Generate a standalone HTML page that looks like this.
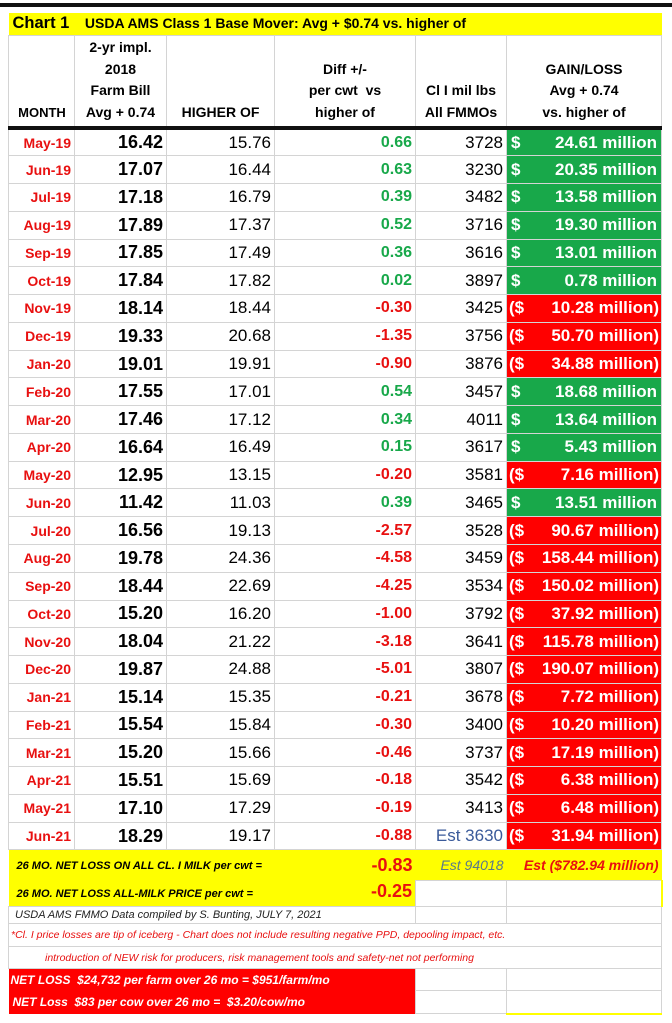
<!DOCTYPE html>
<html><head><meta charset="utf-8"><style>
body{margin:0;background:#fff;width:672px;height:1023px;overflow:hidden;font-family:"Liberation Sans",sans-serif;position:relative}
table{position:absolute;left:8px;top:13px;border-collapse:collapse;table-layout:fixed;width:653px}
td{border:1px solid #d4d4d4;padding:0 3px;white-space:nowrap;overflow:hidden;height:27.77px;box-sizing:border-box;font-size:17px;text-align:right}
.m{color:#e81010;font-weight:bold;font-size:14px}
.a{font-weight:bold;font-size:18px}
.d{font-weight:bold;font-size:16px}
.gp{color:#18a84a}.gn{color:#e81010}
.g{background:#18a84a;color:#fff;font-weight:bold;font-size:17px;padding:0 4px}
.r{background:#ff0000;color:#fff;font-weight:bold;font-size:17px;padding:0 2px}
.g span,.r span{float:left}
.hd td{font-weight:bold;font-size:14px;text-align:center;vertical-align:bottom;line-height:21.5px;padding-bottom:3px;height:93px;border-bottom:4px solid #111}
</style></head><body>
<div style="position:absolute;left:0;top:3px;width:672px;height:4px;background:#111"></div>
<table>
<colgroup><col style="width:66px"><col style="width:92px"><col style="width:108px"><col style="width:141px"><col style="width:91px"><col style="width:155px"></colgroup>
<tr><td colspan="6" style="background:#ffff00;height:22px;text-align:left;font-weight:bold;font-size:14px;border:none;padding-left:4px"><span style="font-size:16.5px">Chart 1</span>&nbsp;&nbsp;&nbsp;&nbsp;USDA AMS Class 1 Base Mover: Avg + $0.74 vs. higher of</td></tr>
<tr class="hd"><td style="padding:0 0 3px 1px;font-size:13px">MONTH</td><td>2-yr impl.<br>2018<br>Farm Bill<br>Avg + 0.74</td><td>HIGHER OF</td><td>Diff +/-<br>per cwt&nbsp; vs<br>higher of</td><td>Cl I mil lbs<br>All FMMOs</td><td>GAIN/LOSS<br>Avg + 0.74<br>vs. higher of</td></tr>
<tr><td class="m">May-19</td><td class="a">16.42</td><td>15.76</td><td class="d gp">0.66</td><td>3728</td><td class="g"><span>$</span>24.61 million</td></tr>
<tr><td class="m">Jun-19</td><td class="a">17.07</td><td>16.44</td><td class="d gp">0.63</td><td>3230</td><td class="g"><span>$</span>20.35 million</td></tr>
<tr><td class="m">Jul-19</td><td class="a">17.18</td><td>16.79</td><td class="d gp">0.39</td><td>3482</td><td class="g"><span>$</span>13.58 million</td></tr>
<tr><td class="m">Aug-19</td><td class="a">17.89</td><td>17.37</td><td class="d gp">0.52</td><td>3716</td><td class="g"><span>$</span>19.30 million</td></tr>
<tr><td class="m">Sep-19</td><td class="a">17.85</td><td>17.49</td><td class="d gp">0.36</td><td>3616</td><td class="g"><span>$</span>13.01 million</td></tr>
<tr><td class="m">Oct-19</td><td class="a">17.84</td><td>17.82</td><td class="d gp">0.02</td><td>3897</td><td class="g"><span>$</span>0.78 million</td></tr>
<tr><td class="m">Nov-19</td><td class="a">18.14</td><td>18.44</td><td class="d gn">-0.30</td><td>3425</td><td class="r"><span>($</span>10.28 million)</td></tr>
<tr><td class="m">Dec-19</td><td class="a">19.33</td><td>20.68</td><td class="d gn">-1.35</td><td>3756</td><td class="r"><span>($</span>50.70 million)</td></tr>
<tr><td class="m">Jan-20</td><td class="a">19.01</td><td>19.91</td><td class="d gn">-0.90</td><td>3876</td><td class="r"><span>($</span>34.88 million)</td></tr>
<tr><td class="m">Feb-20</td><td class="a">17.55</td><td>17.01</td><td class="d gp">0.54</td><td>3457</td><td class="g"><span>$</span>18.68 million</td></tr>
<tr><td class="m">Mar-20</td><td class="a">17.46</td><td>17.12</td><td class="d gp">0.34</td><td>4011</td><td class="g"><span>$</span>13.64 million</td></tr>
<tr><td class="m">Apr-20</td><td class="a">16.64</td><td>16.49</td><td class="d gp">0.15</td><td>3617</td><td class="g"><span>$</span>5.43 million</td></tr>
<tr><td class="m">May-20</td><td class="a">12.95</td><td>13.15</td><td class="d gn">-0.20</td><td>3581</td><td class="r"><span>($</span>7.16 million)</td></tr>
<tr><td class="m">Jun-20</td><td class="a">11.42</td><td>11.03</td><td class="d gp">0.39</td><td>3465</td><td class="g"><span>$</span>13.51 million</td></tr>
<tr><td class="m">Jul-20</td><td class="a">16.56</td><td>19.13</td><td class="d gn">-2.57</td><td>3528</td><td class="r"><span>($</span>90.67 million)</td></tr>
<tr><td class="m">Aug-20</td><td class="a">19.78</td><td>24.36</td><td class="d gn">-4.58</td><td>3459</td><td class="r"><span>($</span>158.44 million)</td></tr>
<tr><td class="m">Sep-20</td><td class="a">18.44</td><td>22.69</td><td class="d gn">-4.25</td><td>3534</td><td class="r"><span>($</span>150.02 million)</td></tr>
<tr><td class="m">Oct-20</td><td class="a">15.20</td><td>16.20</td><td class="d gn">-1.00</td><td>3792</td><td class="r"><span>($</span>37.92 million)</td></tr>
<tr><td class="m">Nov-20</td><td class="a">18.04</td><td>21.22</td><td class="d gn">-3.18</td><td>3641</td><td class="r"><span>($</span>115.78 million)</td></tr>
<tr><td class="m">Dec-20</td><td class="a">19.87</td><td>24.88</td><td class="d gn">-5.01</td><td>3807</td><td class="r"><span>($</span>190.07 million)</td></tr>
<tr><td class="m">Jan-21</td><td class="a">15.14</td><td>15.35</td><td class="d gn">-0.21</td><td>3678</td><td class="r"><span>($</span>7.72 million)</td></tr>
<tr><td class="m">Feb-21</td><td class="a">15.54</td><td>15.84</td><td class="d gn">-0.30</td><td>3400</td><td class="r"><span>($</span>10.20 million)</td></tr>
<tr><td class="m">Mar-21</td><td class="a">15.20</td><td>15.66</td><td class="d gn">-0.46</td><td>3737</td><td class="r"><span>($</span>17.19 million)</td></tr>
<tr><td class="m">Apr-21</td><td class="a">15.51</td><td>15.69</td><td class="d gn">-0.18</td><td>3542</td><td class="r"><span>($</span>6.38 million)</td></tr>
<tr><td class="m">May-21</td><td class="a">17.10</td><td>17.29</td><td class="d gn">-0.19</td><td>3413</td><td class="r"><span>($</span>6.48 million)</td></tr>
<tr><td class="m">Jun-21</td><td class="a">18.29</td><td>19.17</td><td class="d gn">-0.88</td><td style="color:#3a5a9a">Est 3630</td><td class="r"><span>($</span>31.94 million)</td></tr>
<tr><td colspan="3" style="height:31px;background:#ffff00;text-align:left;font-size:11px;font-weight:bold;font-style:italic;padding-left:8px;border:none">26 MO. NET LOSS ON ALL CL. I MILK per cwt =</td><td class="d gn" style="background:#ffff00;font-size:18px;border:none">-0.83</td><td style="background:#ffff00;color:#5a7a8a;font-style:italic;font-size:14px;border:none">Est 94018</td><td style="background:#ffff00;color:#e81010;font-style:italic;font-weight:bold;font-size:14px;border:none">Est ($782.94 million)</td></tr>
<tr><td colspan="3" style="height:26px;background:#ffff00;text-align:left;font-size:11px;font-weight:bold;font-style:italic;padding-left:8px;border:none">26 MO. NET LOSS ALL-MILK PRICE per cwt =</td><td class="d gn" style="height:26px;background:#ffff00;font-size:18px;border:none;vertical-align:top">-0.25</td><td style="height:26px"></td><td style="height:26px;border-right:2px solid #ffff00"></td></tr>
<tr><td colspan="4" style="height:17px;text-align:left;font-size:11px;font-style:italic;color:#222;padding-left:6px">USDA AMS FMMO Data compiled by S. Bunting, JULY 7, 2021</td><td style="height:17px"></td><td style="height:17px"></td></tr>
<tr><td colspan="6" style="height:23px;text-align:left;font-size:10.5px;font-style:italic;color:#e81010;padding-left:2px">*Cl. I price losses are tip of iceberg - Chart does not include resulting negative PPD, depooling impact, etc.</td></tr>
<tr><td colspan="6" style="height:22px;text-align:left;font-size:10.5px;font-style:italic;color:#e81010;padding-left:36px">introduction of NEW risk for producers, risk management tools and safety-net not performing</td></tr>
<tr><td colspan="4" style="height:22px;background:#ff0000;color:#fff;text-align:left;font-size:12px;font-weight:bold;font-style:italic;padding-left:2px;border:none">NET LOSS&nbsp; $24,732 per farm over 26 mo = $951/farm/mo</td><td style="height:22px"></td><td style="height:22px"></td></tr>
<tr><td colspan="4" style="height:23px;background:#ff0000;color:#fff;text-align:left;font-size:12px;font-weight:bold;font-style:italic;padding-left:4px;border:none">NET Loss&nbsp; $83 per cow over 26 mo =&nbsp; $3.20/cow/mo</td><td style="height:23px"></td><td style="height:23px;border-bottom:2px solid #ffff00"></td></tr>
</table>
</body></html>
